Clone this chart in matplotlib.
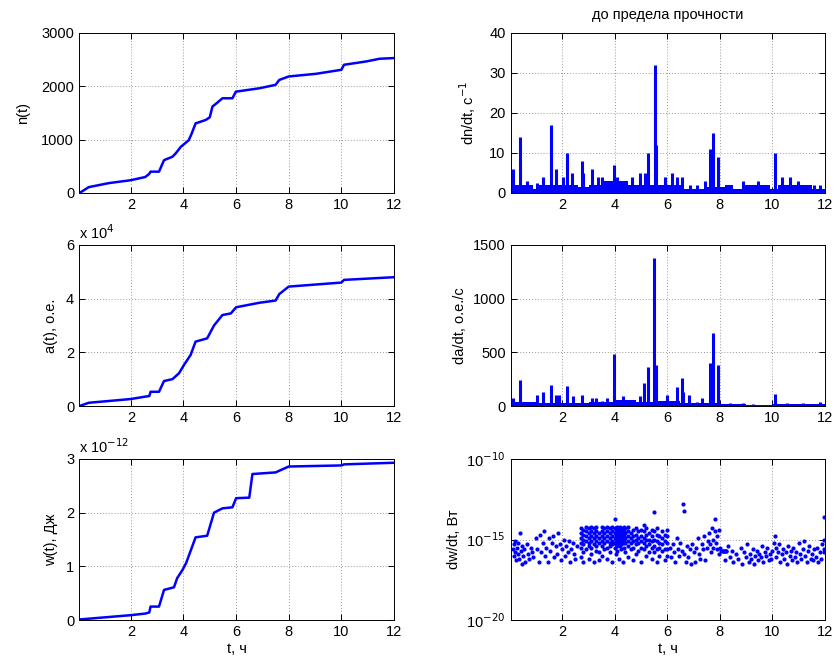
import numpy as np
import matplotlib
matplotlib.use("Agg")
import matplotlib.pyplot as plt

plt.rcParams['font.family'] = ['Liberation Sans', 'DejaVu Sans']
plt.rcParams['font.size'] = 10.5

BLUE = '#0000ff'

# ---------- cumulative curves ----------
n_t = [0.05, 0.4, 1.16, 2.0, 2.55, 2.7, 2.75, 3.07, 3.26, 3.58, 3.7, 3.9, 4.2, 4.3, 4.46, 4.85, 5.0, 5.1,
       5.3, 5.48, 5.86, 5.99, 6.9, 7.5, 7.64, 8.0, 9.04, 10.0, 10.1, 10.95, 11.45, 12.0]
n_v = [0, 110, 185, 240, 300, 360, 400, 400, 615, 680, 740, 866, 990, 1100, 1305, 1370, 1420, 1620,
       1700, 1776, 1776, 1900, 1965, 2028, 2120, 2185, 2235, 2310, 2404, 2467, 2517, 2530]

a_t = [0.05, 0.4, 2.0, 2.55, 2.7, 2.75, 3.07, 3.26, 3.58, 3.83, 4.02, 4.27, 4.46, 4.9, 5.16,
       5.48, 5.8, 6.0, 6.9, 7.5, 7.64, 8.0, 10.0, 10.1, 12.0]
a_v = [0.0, 0.12, 0.26, 0.35, 0.37, 0.53, 0.53, 0.93, 1.0, 1.22, 1.53, 1.9, 2.4, 2.52, 3.0,
       3.39, 3.45, 3.68, 3.85, 3.93, 4.17, 4.45, 4.6, 4.7, 4.8]  # x 10^4

w_t = [0.05, 2.0, 2.55, 2.7, 2.75, 3.07, 3.26, 3.64, 3.76, 3.96, 4.1, 4.46, 4.9, 5.16, 5.48,
       5.86, 6.0, 6.5, 6.62, 7.5, 8.0, 10.0, 10.1, 12.0]
w_v = [0.01, 0.09, 0.12, 0.14, 0.25, 0.25, 0.56, 0.61, 0.78, 0.93, 1.06, 1.54, 1.57, 2.0, 2.08,
       2.1, 2.27, 2.28, 2.72, 2.75, 2.86, 2.88, 2.9, 2.93]  # x 10^-12

# ---------- dn/dt ----------
dn_spk_t = [0.11, 0.39, 0.67, 1.02, 1.28, 1.59, 1.78, 2.04, 2.17, 2.36, 2.74, 2.8, 3.12, 3.37,
            3.5, 3.97, 4.07, 4.32, 4.64, 4.96, 5.15, 5.27, 5.53, 5.57, 5.9, 6.16, 6.35, 6.54,
            6.86, 7.11, 7.43, 7.62, 7.75, 7.94, 8.38, 8.89, 9.46, 10.1, 10.35, 10.67, 10.98,
            11.6, 11.8]
dn_spk_v = [6, 14, 3, 2.5, 4, 17, 6, 4, 10, 5, 8, 5, 6, 4,
            4, 7, 4, 3, 4, 5, 5, 10, 32, 12, 4, 5, 4, 4,
            2, 2, 3, 11, 15, 9, 2, 3, 3, 10, 4, 4, 3,
            2, 2]
dn_base_t = [0.03, 0.9, 1.1, 1.5, 2.6, 3.0, 3.6, 4.5, 5.0, 5.8, 6.6, 7.5, 8.2, 8.5, 8.9, 9.3, 9.9,
             10.2, 11.3, 11.5, 12.0]
dn_base_v = [2, 1, 2, 2, 1.5, 2, 3, 2, 2, 2, 1, 1.5, 2, 1, 2, 2, 1, 2, 2, 1]

# ---------- da/dt ----------
da_spk_t = [0.11, 0.39, 0.64, 1.02, 1.28, 1.59, 1.78, 1.88, 2.17, 2.42, 2.74, 3.12, 3.3, 3.5,
            3.7, 3.97, 4.07, 4.32, 4.58, 4.96, 5.11, 5.27, 5.5, 5.57, 5.97, 6.16, 6.35, 6.54,
            6.6, 6.83, 7.11, 7.3, 7.62, 7.75, 7.94, 8.38, 8.89, 9.27, 10.1, 10.55, 11.18, 11.8]
da_spk_v = [70, 240, 40, 100, 130, 200, 100, 100, 190, 90, 100, 70, 70, 50,
            70, 480, 60, 90, 60, 90, 210, 360, 1380, 380, 100, 50, 180, 260,
            130, 100, 40, 70, 400, 680, 380, 30, 30, 20, 110, 30, 25, 40]
da_base_t = [0.03, 1.0, 2.0, 3.0, 4.0, 4.8, 5.5, 6.5, 7.0, 8.0, 9.0, 10.0, 11.0, 12.0]
da_base_v = [35, 25, 30, 40, 60, 40, 45, 30, 30, 15, 12, 18, 15]

# ---------- dw/dt (exponent of 10) ----------
dwA_t = [0.12, 0.15, 0.18, 0.2, 0.22, 0.25, 0.28, 0.3, 0.33, 0.36, 0.4, 0.42, 0.45, 0.48, 0.5,
         0.55, 0.6, 0.65, 0.7, 0.75, 0.8, 0.85, 0.9, 1.0, 1.05, 1.1, 1.15, 1.2, 1.25, 1.3, 1.35,
         1.4, 1.45, 1.5, 1.55, 1.6, 1.65, 1.7, 1.75, 1.8, 1.85, 1.9, 1.95, 2.0, 2.05, 2.1, 2.15,
         2.2, 2.25, 2.3, 2.35, 2.4, 2.45, 2.5, 2.55]
dwA_e = [-15.6, -15.3, -16.0, -15.1, -15.8, -16.3, -15.5, -15.9, -15.2, -16.2, -14.6, -15.7,
         -16.5, -15.4, -16.0, -15.6, -16.4, -15.3, -15.9, -16.2, -15.5, -15.8, -16.1, -14.9,
         -15.6, -16.4, -14.7, -15.8, -15.2, -14.5, -16.0, -15.5, -16.4, -14.9, -15.7, -15.2,
         -14.8, -16.1, -15.4, -15.9, -14.6, -15.3, -16.3, -15.6, -15.0, -16.0, -15.4, -15.8,
         -15.1, -16.4, -15.6, -15.2, -15.9, -16.2, -15.4]
dwB_cols = {
    2.7: [-14.3, -14.6, -14.9, -15.2, -15.5, -16.1],
    2.8: [-14.4, -14.7, -15.0, -15.3, -15.8, -16.4],
    2.9: [-14.2, -14.5, -14.8, -15.1, -15.6],
    3.0: [-14.3, -14.6, -14.9, -15.2, -15.4, -16.2],
    3.1: [-14.2, -14.5, -14.8, -15.1, -15.5, -15.9],
    3.2: [-14.3, -14.6, -14.9, -15.3, -16.4],
    3.3: [-14.2, -14.5, -14.8, -15.1, -15.4, -15.7],
    3.4: [-14.6, -14.9, -15.2, -15.8, -16.3],
    3.5: [-14.2, -14.5, -14.8, -15.1, -15.4, -16.0],
    3.6: [-14.3, -14.6, -14.9, -15.2, -15.6],
    3.7: [-14.2, -14.5, -14.8, -15.1, -15.5, -16.2],
    3.8: [-14.3, -14.6, -14.9, -15.2, -15.4, -15.8],
    3.9: [-14.2, -14.5, -14.8, -15.1, -15.3, -16.4],
    4.0: [-13.7, -14.3, -14.6, -14.9, -15.2, -15.5],
    4.05: [-14.4, -14.7, -15.0, -15.3, -15.9],
    4.1: [-14.2, -14.5, -14.8, -15.1, -15.4, -15.7],
    4.15: [-14.3, -14.6, -14.9, -15.2, -16.2],
    4.2: [-14.2, -14.5, -14.8, -15.1, -15.4],
    4.25: [-14.4, -14.7, -15.0, -15.3, -15.6],
    4.3: [-14.3, -14.6, -14.9, -15.2, -16.4],
    4.35: [-14.2, -14.5, -14.8, -15.1, -15.5],
    4.4: [-14.3, -14.6, -14.9, -15.2, -15.8],
    4.5: [-14.2, -14.5, -14.8, -15.1, -15.4, -16.1],
    4.6: [-14.6, -14.9, -15.2, -15.6],
    4.7: [-14.4, -14.8, -15.1, -15.5, -16.3],
    4.8: [-14.3, -14.7, -15.0, -15.3, -15.9],
    4.9: [-14.5, -14.9, -15.2, -15.7],
    5.0: [-14.4, -14.8, -15.1, -15.5, -16.4],
    5.1: [-14.1, -14.5, -14.9, -15.2, -15.6],
    5.2: [-14.3, -14.7, -15.0, -15.4, -16.0],
    5.3: [-14.6, -15.0, -15.3, -15.8],
    5.4: [-14.4, -14.8, -15.1, -15.5, -16.2],
    5.5: [-13.3, -14.5, -15.0, -15.4, -15.8],
    5.6: [-14.3, -14.7, -15.1, -15.6, -16.4],
    5.7: [-14.8, -15.2, -15.5, -16.0],
    5.8: [-14.5, -14.9, -15.3, -15.7],
    5.9: [-14.7, -15.1, -15.6, -16.3],
    6.0: [-14.4, -14.8, -15.2, -15.6, -16.0],
}
dwC_t = [6.1, 6.15, 6.2, 6.25, 6.3, 6.35, 6.4, 6.45, 6.5, 6.55, 6.6, 6.62, 6.65, 6.7, 6.75, 6.8,
         6.85, 6.9, 6.95, 7.0, 7.05, 7.1, 7.15, 7.2, 7.25, 7.3, 7.35, 7.4, 7.45, 7.5, 7.55, 7.6,
         7.62, 7.65, 7.7, 7.72, 7.75, 7.8, 7.82, 7.85, 7.88, 7.9, 7.95, 7.98, 8.0, 8.05, 8.1,
         8.15, 8.2, 8.25]
dwC_e = [-15.5, -16.1, -15.3, -15.8, -16.4, -14.9, -15.6, -16.0, -15.2, -15.7, -12.8, -13.2,
         -15.9, -16.4, -15.4, -16.1, -15.6, -16.5, -15.3, -15.8, -16.4, -15.5, -14.9, -15.9,
         -16.2, -15.3, -15.6, -14.8, -16.3, -15.5, -15.1, -14.6, -15.3, -15.8, -14.3, -15.0,
         -15.5, -13.7, -14.5, -15.2, -15.6, -14.8, -14.4, -15.9, -15.5, -15.7, -15.7, -15.7,
         -15.7, -15.7]
dwD_t = [8.1, 8.2, 8.25, 8.3, 8.4, 8.45, 8.5, 8.6, 8.7, 8.8, 8.85, 8.9, 9.0, 9.05, 9.1, 9.15,
         9.2, 9.25, 9.3, 9.35, 9.4, 9.45, 9.5, 9.55, 9.6, 9.65, 9.7, 9.75, 9.8, 9.85, 9.9, 9.95,
         10.0, 10.05, 10.1, 10.12, 10.15, 10.2, 10.25, 10.3, 10.35, 10.4, 10.45, 10.5, 10.55,
         10.6, 10.65, 10.7, 10.75, 10.8, 10.85, 10.9, 10.95, 11.0, 11.05, 11.1, 11.15, 11.2,
         11.25, 11.3, 11.35, 11.4, 11.45, 11.5, 11.55, 11.6, 11.65, 11.7, 11.75, 11.8, 11.85,
         11.9, 11.95, 11.98, 11.98, 11.98]
dwD_e = [-15.7, -16.3, -15.7, -15.4, -16.1, -15.7, -16.4, -15.9, -16.2, -15.5, -16.5, -15.8,
         -16.1, -15.3, -16.4, -15.9, -16.2, -15.6, -16.5, -16.0, -15.7, -16.3, -15.9, -16.1,
         -15.4, -16.4, -15.8, -16.0, -15.5, -16.3, -15.9, -16.2, -15.7, -15.2, -14.8, -15.5,
         -16.1, -15.8, -15.3, -16.4, -15.9, -15.6, -16.2, -15.8, -16.5, -15.4, -16.0, -15.7,
         -16.3, -15.5, -16.1, -15.8, -16.4, -15.2, -15.9, -16.2, -15.6, -15.1, -16.0, -16.4,
         -15.7, -15.4, -16.2, -15.9, -16.3, -15.6, -16.1, -15.5, -16.4, -15.8, -16.2, -15.3,
         -15.6, -13.6, -15.0, -15.8]

x_ticks = [2, 4, 6, 8, 10, 12]
XLIM = (0.03, 12)

fig = plt.figure(figsize=(8.34, 6.68), dpi=100)
W, H = 834, 668


def make_ax(l, t, r, b):
    ax = fig.add_axes([l / W, 1 - b / H, (r - l) / W, (b - t) / H])
    ax.set_xlim(*XLIM)
    ax.set_xticks(x_ticks)
    ax.grid(True, linestyle=(0, (1, 2)), color='#999999', linewidth=0.7)
    ax.tick_params(direction='in', length=4, top=True, right=True, width=0.7, labelsize=10.5)
    for s in ax.spines.values():
        s.set_linewidth(0.7)
    ax.set_axisbelow(True)
    return ax


L1, R1 = 79, 394
L2, R2 = 510.5, 825
rows = [(33, 193), (245, 406), (459, 620)]

# left column
ax1 = make_ax(L1, rows[0][0], R1, rows[0][1])
ax1.plot(n_t, n_v, color=BLUE, lw=1.8)
ax1.set_ylim(0, 3000)
ax1.set_yticks([0, 1000, 2000, 3000])
ax1.set_ylabel('n(t)', labelpad=8)

ax2 = make_ax(L1, rows[1][0], R1, rows[1][1])
ax2.plot(a_t, a_v, color=BLUE, lw=1.8)
ax2.set_ylim(0, 6)
ax2.set_yticks([0, 2, 4, 6])
ax2.set_ylabel('a(t), о.е.', labelpad=6)
ax2.text(0.0, 1.02, r'x 10$^{4}$', transform=ax2.transAxes, fontsize=10.5, va='bottom', ha='left')

ax3 = make_ax(L1, rows[2][0], R1, rows[2][1])
ax3.plot(w_t, w_v, color=BLUE, lw=1.8)
ax3.set_ylim(0, 3)
ax3.set_yticks([0, 1, 2, 3])
ax3.set_ylabel('w(t), Дж', labelpad=6)
ax3.set_xlabel('t, ч', labelpad=2)
ax3.text(0.0, 1.02, r'x 10$^{-12}$', transform=ax3.transAxes, fontsize=10.5, va='bottom', ha='left')

# right column
ax4 = make_ax(L2, rows[0][0], R2, rows[0][1])
ax4.stairs(dn_base_v, dn_base_t, fill=True, color=BLUE, lw=0)
ax4.vlines(dn_spk_t, 0, dn_spk_v, color=BLUE, lw=2.2)
ax4.set_ylim(0, 40)
ax4.set_yticks([0, 10, 20, 30, 40])
ax4.set_ylabel(r'dn/dt, c$^{-1}$', labelpad=8)
ax4.set_title('до предела прочности', fontsize=10.5, pad=10)

ax5 = make_ax(L2, rows[1][0], R2, rows[1][1])
ax5.stairs(da_base_v, da_base_t, fill=True, color=BLUE, lw=0)
ax5.vlines(da_spk_t, 0, da_spk_v, color=BLUE, lw=2.2)
ax5.set_ylim(0, 1500)
ax5.set_yticks([0, 500, 1000, 1500])
ax5.set_ylabel('da/dt, о.е./c', labelpad=4)

ax6 = make_ax(L2, rows[2][0], R2, rows[2][1])
dwB_t = []
dwB_e = []
for tc, es in dwB_cols.items():
    dwB_t += [tc] * len(es)
    dwB_e += es
all_t = np.array(dwA_t + dwB_t + dwC_t + dwD_t)
all_e = np.array(dwA_e + dwB_e + dwC_e + dwD_e)
ax6.set_yscale('log')
ax6.scatter(all_t, 10.0 ** all_e, s=9, color=BLUE, lw=0)
ax6.set_ylim(1e-20, 1e-10)
ax6.set_yticks([1e-20, 1e-15, 1e-10])
ax6.set_yticklabels([r'10$^{-20}$', r'10$^{-15}$', r'10$^{-10}$'])
ax6.yaxis.set_minor_locator(matplotlib.ticker.NullLocator())
ax6.set_ylabel('dw/dt, Вт', labelpad=4)
ax6.set_xlabel('t, ч', labelpad=2)

fig.savefig('out.png', dpi=100)
